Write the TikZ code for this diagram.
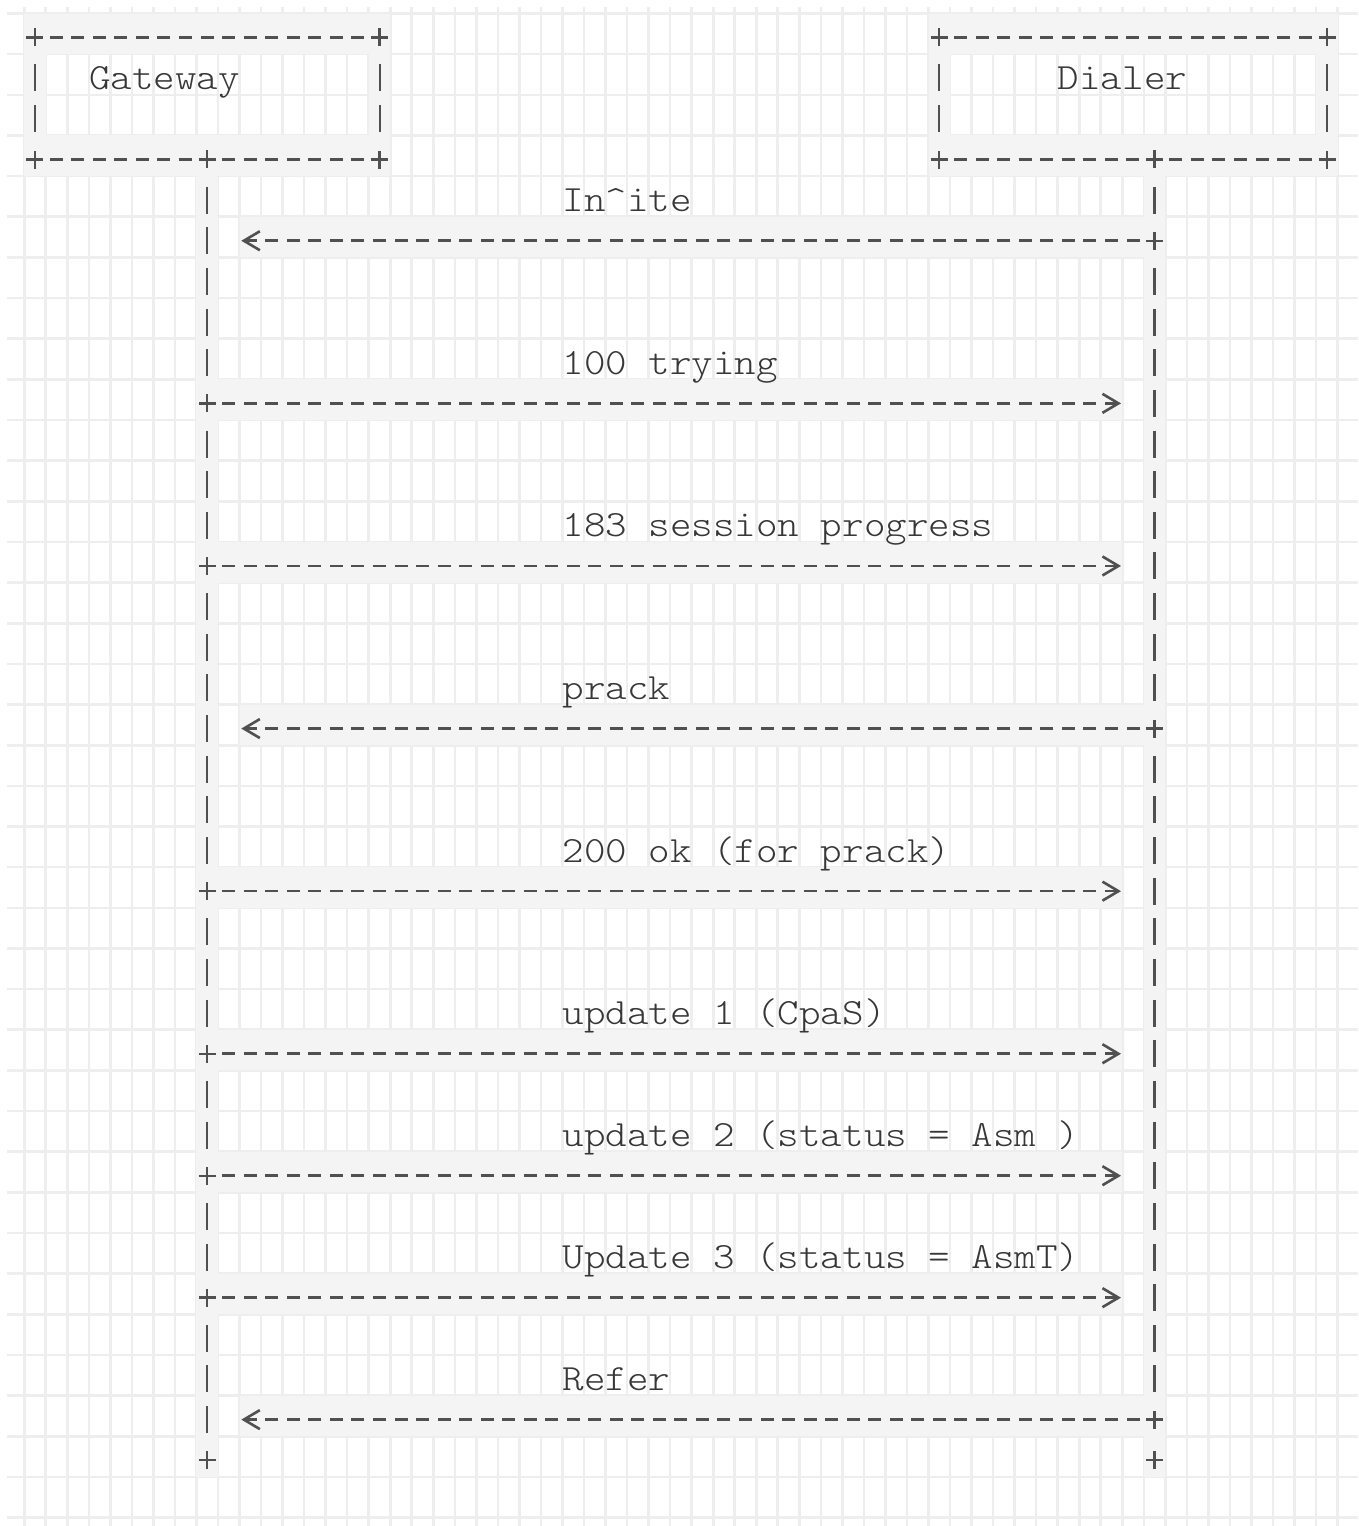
\documentclass[tikz,border=0pt]{standalone}
\usetikzlibrary{arrows.meta}
\definecolor{gridc}{RGB}{238,238,238}
\definecolor{bandc}{RGB}{244,244,244}
\definecolor{inkc}{RGB}{80,80,80}
\definecolor{txtc}{RGB}{55,55,55}
\tikzset{
  hdash/.style={draw=inkc, line width=2.6pt, dash pattern=on 13pt off 8.53pt, shorten <=15.03pt},
  hrule/.style={hdash, shorten >=15.03pt},
  vdash/.style={draw=inkc, line width=2.2pt, dash pattern=on 27pt off 13.65pt, shorten <=27.15pt, shorten >=27.15pt},
  glyph/.style={draw=inkc, line width=2.4pt},
  lbl/.style={anchor=base west, inner sep=0pt, text=txtc, font=\ttfamily\fontseries{l}\fontsize{37}{40}\selectfont, xscale=1.108},
  cellfill/.style={fill=bandc},
  gridline/.style={draw=gridc, line width=2.6pt},
  tipL/.style={-{Straight Barb[length=16pt,width=19pt]}}
}
\newcommand\plusglyph[1]{\draw[glyph] ([shift={(-8.5pt,0pt)}]#1) -- ([shift={(8.5pt,0pt)}]#1) ([shift={(0pt,-9pt)}]#1) -- ([shift={(0pt,9pt)}]#1);}
\newcommand\cellrun[3]{\fill[cellfill] (#1-0.5,#3-0.59) rectangle (#2+0.5,#3+0.41);}
\newcommand\plusgap[1]{\fill[cellfill] ([shift={(-4pt,-17pt)}]#1) rectangle ([shift={(4pt,17pt)}]#1);}
\begin{document}
\begin{tikzpicture}
\useasboundingbox (0pt,0pt) rectangle (1358pt,-1526pt);
\fill[white] (0pt,0pt) rectangle (1358pt,-1526pt);
\begin{scope}[x=21.53pt, y=-40.65pt, shift={(35pt,-37.5pt)}]
% grid
\foreach \c in {-1,...,60} \draw[gridline] (\c+0.5,-0.75) -- (\c+0.5,36.62);
\foreach \k in {0,...,37} \draw[gridline] (-1.30,\k-0.59) -- (61.45,\k-0.59);
% shaded cells
\cellrun{0}{16}{0} \cellrun{42}{60}{0}
\cellrun{0}{16}{3} \cellrun{42}{60}{3}
\fill[cellfill] (-0.5,-0.59) rectangle (0.5,3.41);
\fill[cellfill] (15.5,-0.59) rectangle (16.5,3.41);
\fill[cellfill] (41.5,-0.59) rectangle (42.5,3.41);
\fill[cellfill] (59.5,-0.59) rectangle (60.5,3.41);
\fill[cellfill] (7.5,2.41) rectangle (8.5,35.41);
\fill[cellfill] (51.5,2.41) rectangle (52.5,35.41);
\foreach \r in {5,17,34} {\cellrun{10}{52}{\r}}
\foreach \r in {9,13,21,25,28,31} {\cellrun{8}{50}{\r}}
% participant boxes
\node[minimum width=344.48pt, minimum height=121.95pt, inner sep=0pt] (gw) at (8,1.5) {};
\node[minimum width=387.54pt, minimum height=121.95pt, inner sep=0pt] (dl) at (51,1.5) {};
\draw[hrule] (gw.north west) -- (gw.north east);
\draw[hrule] (gw.south west) -- (gw.south east);
\draw[vdash] (gw.north west) -- (gw.south west);
\draw[vdash] (gw.north east) -- (gw.south east);
\draw[hrule] (dl.north west) -- (dl.north east);
\draw[hrule] (dl.south west) -- (dl.south east);
\draw[vdash] (dl.north west) -- (dl.south west);
\draw[vdash] (dl.north east) -- (dl.south east);
\node[lbl] (gwt) at (2.5,1.285) {Gateway};
\node[lbl] (dlt) at (47.5,1.285) {Dialer};
% lifelines
\coordinate (gwb) at (8,3);
\coordinate (dlb) at (52,3);
\coordinate (gwe) at (8,35);
\coordinate (dle) at (52,35);
\draw[vdash] (gwb) -- (gwe);
\draw[vdash] (dlb) -- (dle);
\foreach \r in {5,9,13,17,21,25,28,31,34} {
  \coordinate (g\r) at (8,\r);
  \coordinate (d\r) at (52,\r);
}
% junction marks
\foreach \r in {9,13,21,25,28,31} {\plusgap{g\r}}
\foreach \r in {5,17,34} {\plusgap{d\r}}
\foreach \n in {gw.north west,gw.north east,gw.south west,gw.south east,gwb,dl.north west,dl.north east,dl.south west,dl.south east,dlb,gwe,dle} {\plusglyph{\n}}
\foreach \r in {9,13,21,25,28,31} {\plusglyph{g\r}}
\foreach \r in {5,17,34} {\plusglyph{d\r}}
% messages
\draw[hdash, tipL, shorten >=34.06pt] (d5) -- (g5);
\draw[hdash, tipL, shorten >=33.56pt] (g9) -- (d9);
\draw[hdash, tipL, shorten >=33.56pt] (g13) -- (d13);
\draw[hdash, tipL, shorten >=34.06pt] (d17) -- (g17);
\draw[hdash, tipL, shorten >=33.56pt] (g21) -- (d21);
\draw[hdash, tipL, shorten >=33.56pt] (g25) -- (d25);
\draw[hdash, tipL, shorten >=33.56pt] (g28) -- (d28);
\draw[hdash, tipL, shorten >=33.56pt] (g31) -- (d31);
\draw[hdash, tipL, shorten >=34.06pt] (d34) -- (g34);
% message labels
\node[lbl] (m4) at (24.5,4.285) {In\textasciicircum ite};
\node[lbl] (m8) at (24.5,8.285) {100 trying};
\node[lbl] (m12) at (24.5,12.285) {183 session progress};
\node[lbl] (m16) at (24.5,16.285) {prack};
\node[lbl] (m20) at (24.5,20.285) {200 ok (for prack)};
\node[lbl] (m24) at (24.5,24.285) {update 1 (CpaS)};
\node[lbl] (m27) at (24.5,27.285) {update 2 (status = Asm )};
\node[lbl] (m30) at (24.5,30.285) {Update 3 (status = AsmT)};
\node[lbl] (m33) at (24.5,33.285) {Refer};
\end{scope}
\end{tikzpicture}
\end{document}
